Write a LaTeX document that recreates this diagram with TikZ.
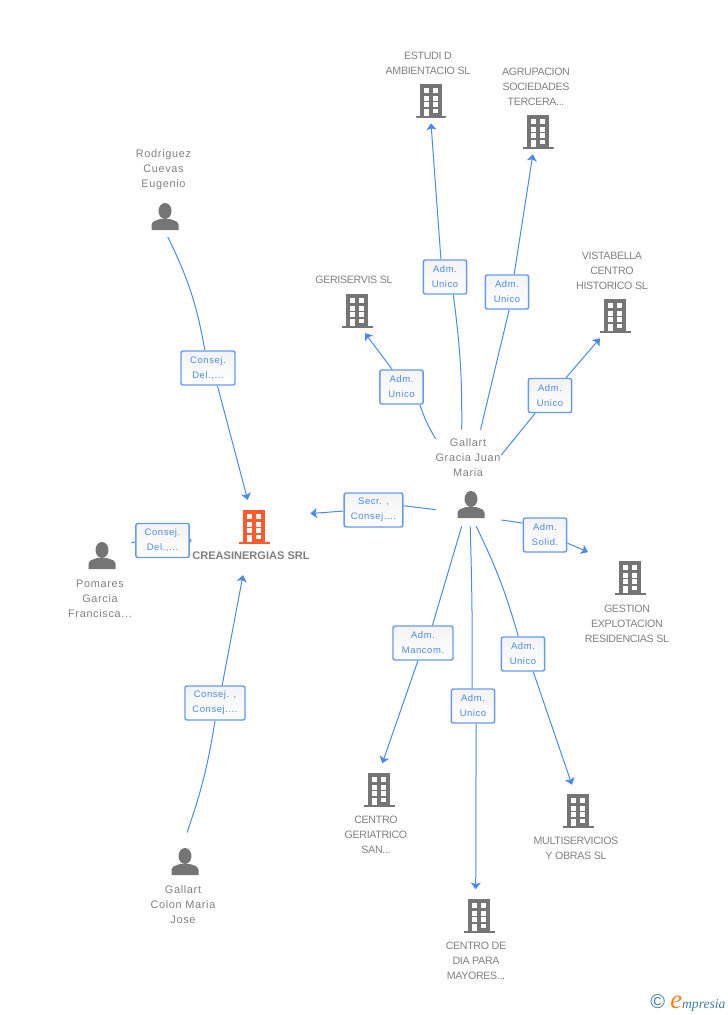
\documentclass[tikz,border=0pt]{standalone}
\usepackage{fontspec}
\setmainfont{Liberation Sans}
\newfontfamily\rolefont[LetterSpace=6]{Liberation Sans}
\newfontfamily\tagfont[LetterSpace=6]{Liberation Sans}
\newfontfamily\capsfont[LetterSpace=-3.2]{Liberation Sans}
\newfontfamily\logofont{Liberation Serif}
\usetikzlibrary{arrows.meta,backgrounds}
\definecolor{linkblue}{HTML}{4A8AE6}
\definecolor{rolegray}{HTML}{F3F3F3}
\definecolor{icongray}{HTML}{757575}
\definecolor{textgray}{HTML}{808080}
\definecolor{firmorange}{HTML}{FF5A2B}
\definecolor{logoblue}{HTML}{3F7F9F}
\definecolor{logoorange}{HTML}{F58220}
\tikzset{
    building/.style={circle, inner sep=0pt, minimum size=40pt, path picture={
        \begin{scope}[shift={(path picture bounding box.center)}]
            \fill [#1] (-11,-17) rectangle (11,15);
            \fill [#1] (-15.5,15) rectangle (15.5,17);
            \foreach \y in {-13,-5.5,1} {
                \fill [white] (-7,\y) rectangle +(5,5);
                \fill [white] (2,\y) rectangle +(5,5);
            }
            \fill [white] (-7,7.5) rectangle (-2,15);
            \fill [white] (2,7.5) rectangle (7,12);
        \end{scope}}},
    person/.style={circle, inner sep=0pt, minimum size=30pt, path picture={
        \begin{scope}[shift={(path picture bounding box.center)}]
            \fill [icongray] (0,-6) ellipse [x radius=6.5, y radius=8];
            \fill [icongray] (-13.5,13) -- (-13.5,7.5) .. controls (-13.5,5) and (-12,4.5) .. (-5,2)
                -- (5,2) .. controls (12,4.5) and (13.5,5) .. (13.5,7.5) -- (13.5,13) -- cycle;
        \end{scope}}},
    hub/.style={inner sep=0pt},
    tag/.style={text=textgray, align=center, inner sep=0pt, font=\tagfont\fontsize{8.2}{11.25}\selectfont},
    firmtag/.style={tag, font=\capsfont\fontsize{8}{11.25}\selectfont},
    role/.style={draw=linkblue!85!white, line width=1.1pt, rounded corners=1.5pt, top color=rolegray, bottom color=white,
        text=linkblue, align=center, inner sep=0pt, minimum height=25.5pt, minimum width=#1,
        execute at begin node={\rule{0pt}{7pt}},
        font=\rolefont\fontsize{7.1}{11.25}\selectfont},
    role/.default=32.5pt,
    link/.style={draw=linkblue, line width=.75pt, -{Stealth[length=5pt,width=7.5pt,inset=1.2pt]}},
    plain/.style={draw=linkblue, line width=.75pt}
}

\begin{document}
\begin{tikzpicture}[x=.75pt, y=-.75pt]
    \useasboundingbox (0,0) rectangle (728,1015);

    % the firm
    \node [building=firmorange] (creaicon) at (254,527) {};
    \node [tag, font=\bfseries\fontsize{8.3}{11.25}\selectfont] (crealabel) at (251,556) {CREASINERGIAS SRL};
    \node [hub, minimum width=88.5pt, minimum height=56pt] (crea) at (251,537.5) {};

    % people
    \node [person, minimum size=30pt] (rodriguez) at (165,217) {};
    \node [tag] (rodriguezlabel) at (163.5,170) {Rodriguez\\Cuevas\\Eugenio};
    \node [person, minimum size=48pt] (pomares) at (102,556) {};
    \node [tag] (pomareslabel) at (100,599) {Pomares\\Garcia\\Francisca...};
    \node [person, minimum size=44pt] (colon) at (185,862) {};
    \node [tag] (colonlabel) at (183,905) {Gallart\\Colon Maria\\Jose};
    \node [person] (graciaicon) at (471,505) {};
    \node [tag] (gracialabel) at (468,458) {Gallart\\Gracia Juan\\Maria};
    \node [hub, minimum width=48.75pt, minimum height=72pt] (gracia) at (468.5,478) {};

    % other firms
    \node [building=icongray, minimum size=33pt] (estudi) at (431,101) {};
    \node [firmtag] (estudilabel) at (428,63) {ESTUDI D\\AMBIENTACIO SL};
    \node [building=icongray, minimum size=34pt] (agrupacion) at (538,132) {};
    \node [firmtag] (agrupacionlabel) at (536,86.5) {AGRUPACION\\SOCIEDADES\\TERCERA...};
    \node [building=icongray, minimum size=35pt] (geriservis) at (357,311) {};
    \node [firmtag] (geriservislabel) at (354,280) {GERISERVIS SL};
    \node [building=icongray] (vistabella) at (615,316) {};
    \node [firmtag] (vistabellalabel) at (612,270.5) {VISTABELLA\\CENTRO\\HISTORICO SL};
    \node [building=icongray] (gestion) at (630,578) {};
    \node [firmtag] (gestionlabel) at (627,623.5) {GESTION\\EXPLOTACION\\RESIDENCIAS SL};
    \node [building=icongray] (multi) at (578,811) {};
    \node [firmtag] (multilabel) at (576,848) {MULTISERVICIOS\\Y OBRAS SL};
    \node [building=icongray] (dia) at (479,916) {};
    \node [firmtag] (dialabel) at (476,960.5) {CENTRO DE\\DIA PARA\\MAYORES...};
    \node [building=icongray] (geriatrico) at (379,790) {};
    \node [firmtag] (geriatricolabel) at (376,834.5) {CENTRO\\GERIATRICO\\SAN...};
    \coordinate (gestiontip) at (588,552);

    % roles
    \node [role=40.5pt] (r1) at (208,368) {Consej.\\Del.,...};
    \node [role=40pt] (r2) at (162.5,540.5) {Consej.\\Del.,...};
    \node [role=45pt] (r3) at (215,703) {Consej. ,\\Consej....};
    \node [role=44pt] (r4) at (373.5,510) {Secr. ,\\Consej....};
    \node [role] (r5) at (401.5,387) {Adm.\\Unico};
    \node [role] (r6) at (445,277) {Adm.\\Unico};
    \node [role] (r7) at (507,292) {Adm.\\Unico};
    \node [role] (r8) at (550,395.5) {Adm.\\Unico};
    \node [role] (r9) at (545,535) {Adm.\\Solid.};
    \node [role=45pt] (r10) at (423,643) {Adm.\\Mancom.};
    \node [role] (r11) at (473,706) {Adm.\\Unico};
    \node [role] (r12) at (523,654) {Adm.\\Unico};

    \begin{scope}[on background layer]
        % links to the firm
        \draw [plain] (rodriguez.278) to [bend left=8] (r1.100);
        \draw [link] (r1.298) -- (crea.95);
        \draw [plain] (pomares.24) -- (r2.183);
        \draw [link] (r2.0) -- (crea.182);
        \draw [plain] (colon.86) to [bend right=5] (r3.270);
        \draw [link] (r3.68) -- (crea.258);
        \draw [plain] (gracia.224) -- (r4.8);
        \draw [link] (r4.182) -- (crea.22);

        % links from Gallart Gracia
        \draw [plain] (gracia.130) to [bend left=6] (r5.316);
        \draw [link] (r5.118) -- (geriservis.290);
        \draw [plain] (gracia.98) to [bend right=4] (r6.295);
        \draw [link] (r6.103) -- (estudi.270);
        \draw [plain] (gracia.76) -- (r7.277);
        \draw [link] (r7.68) -- (agrupacion.257);
        \draw [plain] (gracia.35) -- (r8.230);
        \draw [link] (r8.48) -- (vistabella.236);
        \draw [plain] (gracia.308) -- (r9.152);
        \draw [link] (r9.340) -- (gestiontip);
        \draw [plain] (gracia.262) -- (r10.62);
        \draw [link] (r10.254) -- (geriatrico.83);
        \draw [plain] (gracia.272) to [bend left=1] (r11.93);
        \draw [link] (r11.280) -- (dia.97);
        \draw [plain] (gracia.279) to [bend left=5] (r12.105);
        \draw [link] (r12.300) -- (multi.103);
    \end{scope}

    % logo
    \node [inner sep=0pt, anchor=base west] (logo) at (650,1008.5) {\fontsize{15}{15}\selectfont\textcolor{logoblue}{©}\hspace{4pt}{\logofont\itshape\fontsize{20}{20}\selectfont\textcolor{logoorange}{e}}{\logofont\itshape\fontsize{10.2}{11}\selectfont\textcolor{logoblue}{mpresia}}};
\end{tikzpicture}
\end{document}
